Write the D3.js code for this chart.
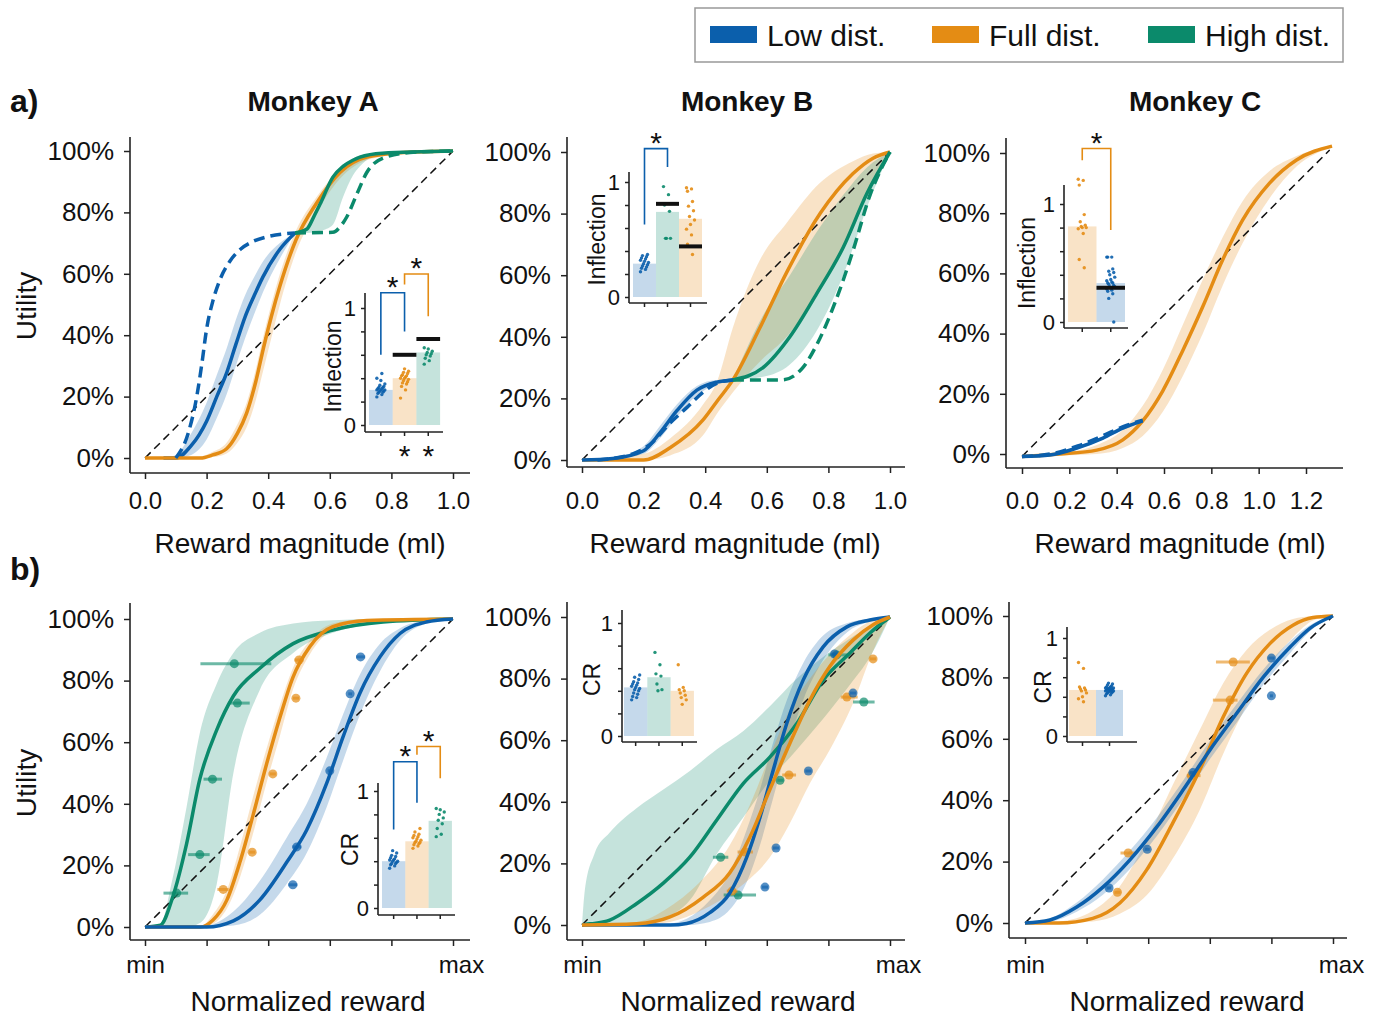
<!DOCTYPE html>
<html>
<head>
<meta charset="utf-8">
<script src="https://cdn.jsdelivr.net/npm/d3@7"></script>
<style>
  body { margin: 0; background: #fff; }
  svg text { font-family: "Liberation Sans", Arial, sans-serif; fill: #111; }
</style>
</head>
<body>
<div id="chart"></div>
<script>
/** Colours **/
const COL = { low: '#0b5fac', full: '#e48c14', high: '#0b8a6b' };
const LEGEND = [['low', 'Low dist.'], ['full', 'Full dist.'], ['high', 'High dist.']];

/** a) utility curves: [x, utility, band low, band high] **/
const monkeyA_low = [[0.06,0,0,0],[0.10,0,0,0.01],[0.15,0.04,0.01,0.08],[0.20,0.12,0.06,0.18],[0.233,0.20,0.13,0.27],[0.266,0.28,0.21,0.36],[0.295,0.37,0.30,0.45],[0.325,0.46,0.39,0.53],[0.355,0.53,0.47,0.59],[0.383,0.59,0.54,0.64],[0.438,0.68,0.65,0.70],[0.487,0.733,0.733,0.733]];
const monkeyA_lowDash = [[0.10,0],[0.14,0.08],[0.168,0.2],[0.185,0.31],[0.20,0.42],[0.22,0.51],[0.243,0.58],[0.275,0.64],[0.31,0.68],[0.35,0.705],[0.395,0.72],[0.487,0.733]];
const monkeyA_full = [[0,0,0,0],[0.18,0,0,0.005],[0.22,0.01,0.003,0.02],[0.265,0.03,0.015,0.05],[0.30,0.08,0.05,0.11],[0.33,0.146,0.10,0.18],[0.36,0.25,0.19,0.29],[0.385,0.36,0.29,0.40],[0.41,0.46,0.39,0.50],[0.438,0.56,0.50,0.60],[0.49,0.71,0.67,0.74],[0.557,0.83,0.80,0.85],[0.633,0.93,0.91,0.94],[0.72,0.98,0.97,0.985],[0.84,0.995,0.99,1],[1,1,1,1]];
const monkeyA_high = [[0.487,0.733,0.733,0.733],[0.525,0.745,0.733,0.755],[0.55,0.79,0.735,0.80],[0.57,0.83,0.74,0.84],[0.61,0.915,0.76,0.92],[0.643,0.95,0.85,0.955],[0.675,0.97,0.92,0.975],[0.698,0.98,0.95,0.985],[0.77,0.993,0.99,0.995],[1,1,1,1]];
const monkeyA_highDash = [[0.487,0.733],[0.61,0.735],[0.635,0.755],[0.655,0.785],[0.688,0.86],[0.72,0.93],[0.773,0.977],[0.86,0.995],[1,1]];

const monkeyB_low = [[0,0,0,0],[0.10,0.005,0.003,0.008],[0.2,0.03,0.02,0.045],[0.253,0.088,0.07,0.11],[0.308,0.16,0.14,0.18],[0.373,0.227,0.21,0.24],[0.438,0.253,0.245,0.26],[0.49,0.26,0.26,0.26]];
const monkeyB_lowDash = [[0.05,0],[0.165,0.02],[0.22,0.05],[0.286,0.12],[0.34,0.17],[0.393,0.22],[0.44,0.25],[0.49,0.26]];
const monkeyB_full = [[0,0,0,0],[0.2,0,0,0.02],[0.286,0.04,0.015,0.07],[0.393,0.13,0.08,0.18],[0.438,0.19,0.15,0.253],[0.49,0.26,0.22,0.43],[0.578,0.43,0.32,0.65],[0.665,0.61,0.40,0.77],[0.773,0.80,0.55,0.90],[0.88,0.93,0.75,0.97],[0.945,0.98,0.90,0.995],[1,1,1,1]];
const monkeyB_high = [[0.49,0.26,0.26,0.26],[0.588,0.30,0.27,0.47],[0.675,0.40,0.31,0.60],[0.762,0.54,0.42,0.74],[0.848,0.69,0.60,0.86],[0.925,0.865,0.82,0.95],[1,1,1,1]];
const monkeyB_highDash = [[0.49,0.26],[0.65,0.26],[0.717,0.30],[0.76,0.37],[0.825,0.52],[0.88,0.68],[0.935,0.86],[1,1]];

const monkeyC_low = [[0,-0.008,-0.008,-0.008],[0.118,-0.003,-0.006,0],[0.232,0.02,0.015,0.025],[0.342,0.053,0.048,0.058],[0.426,0.086,0.08,0.09],[0.51,0.11,0.107,0.113]];
const monkeyC_lowDash = [[0,-0.008],[0.12,0],[0.24,0.028],[0.34,0.06],[0.43,0.092],[0.51,0.112]];
const monkeyC_full = [[0,-0.008,-0.008,-0.008],[0.16,0,-0.005,0.003],[0.316,0.013,0,0.03],[0.426,0.047,0.02,0.08],[0.51,0.11,0.06,0.16],[0.595,0.21,0.14,0.28],[0.68,0.345,0.26,0.43],[0.764,0.49,0.40,0.58],[0.848,0.645,0.56,0.72],[0.932,0.777,0.70,0.84],[1.046,0.90,0.85,0.94],[1.16,0.977,0.955,0.99],[1.31,1.023,1.02,1.025]];
const monkeyC_diag = [[0,-0.008],[1.3,1.01]];
const unitDiag = [[0,0],[1,1]];

/** a) insets: inflection points **/
const monkeyA_infl_low  = [0.24,0.26,0.27,0.28,0.28,0.29,0.29,0.30,0.30,0.30,0.31,0.31,0.32,0.32,0.33,0.34,0.35,0.38,0.40,0.44];
const monkeyA_infl_full = [0.23,0.30,0.33,0.35,0.36,0.37,0.38,0.39,0.40,0.40,0.41,0.42,0.42,0.43,0.44,0.45,0.46,0.48];
const monkeyA_infl_high = [0.52,0.55,0.57,0.59,0.60,0.61,0.62,0.63,0.65,0.66];
const monkeyA_infl_mean = [0.30, 0.40, 0.62];
const monkeyA_infl_ref  = [null, 0.60, 0.735];

const monkeyB_infl_low  = [0.22,0.24,0.25,0.26,0.27,0.28,0.29,0.30,0.31,0.32,0.33,0.34,0.35,0.36,0.37];
const monkeyB_infl_high = [0.96,0.89,0.80,0.745,0.51,0.51,0.51];
const monkeyB_infl_full = [0.95,0.94,0.92,0.83,0.79,0.75,0.70,0.67,0.63,0.59,0.54,0.46,0.37];
const monkeyB_infl_mean = [0.29, 0.74, 0.68];
const monkeyB_infl_ref  = [null, 0.81, 0.44];

const monkeyC_infl_full = [1.21,1.20,1.16,0.91,0.85,0.82,0.81,0.80,0.80,0.79,0.75,0.53,0.46];
const monkeyC_infl_low  = [0.55,0.55,0.55,0.45,0.43,0.42,0.40,0.38,0.36,0.35,0.34,0.33,0.33,0.32,0.31,0.30,0.30,0.29,0.28,0.27,0.26,0.24,0.20,0];
const monkeyC_infl_mean = [0.81, 0.33];
const monkeyC_infl_ref  = [null, 0.29];

/** b) normalized curves: [x, utility, band low, band high] **/
const normA_low = [[0,0,0,0],[0.2,0,0,0.005],[0.287,0.02,0.005,0.05],[0.373,0.088,0.04,0.15],[0.46,0.21,0.14,0.29],[0.525,0.315,0.24,0.40],[0.59,0.467,0.39,0.55],[0.643,0.617,0.54,0.69],[0.698,0.76,0.69,0.82],[0.763,0.877,0.83,0.92],[0.828,0.953,0.93,0.97],[0.913,0.99,0.985,0.995],[1,1,1,1]];
const normA_full = [[0,0,0,0],[0.18,0,0,0.003],[0.22,0.022,0.01,0.04],[0.266,0.088,0.06,0.12],[0.308,0.21,0.16,0.26],[0.35,0.36,0.30,0.42],[0.395,0.53,0.47,0.58],[0.438,0.68,0.62,0.72],[0.48,0.81,0.77,0.84],[0.535,0.91,0.885,0.93],[0.61,0.975,0.965,0.985],[0.72,0.995,0.99,1],[1,1,1,1]];
const normA_high = [[0,0,0,0],[0.05,0.006,0,0.01],[0.09,0.097,0,0.16],[0.135,0.27,0,0.39],[0.178,0.48,0.013,0.63],[0.233,0.64,0.14,0.79],[0.287,0.75,0.50,0.89],[0.373,0.84,0.77,0.955],[0.481,0.92,0.89,0.985],[0.61,0.964,0.955,0.996],[0.773,0.99,0.988,1],[1,1,1,1]];
// data points: [x, utility, x low, x high]
const normA_pts_low  = [[0.70,0.877,0.685,0.715],[0.666,0.757,0.66,0.672],[0.60,0.507,0.593,0.607],[0.493,0.26,0.478,0.508],[0.48,0.137,0.465,0.495]];
const normA_pts_full = [[0.50,0.867,0.485,0.515],[0.49,0.743,0.48,0.50],[0.415,0.497,0.405,0.425],[0.348,0.243,0.338,0.358],[0.254,0.122,0.235,0.272]];
const normA_pts_high = [[0.29,0.855,0.18,0.41],[0.30,0.727,0.27,0.34],[0.219,0.48,0.19,0.25],[0.178,0.235,0.14,0.21],[0.103,0.11,0.06,0.14]];

const normB_low = [[0,0,0,0],[0.286,0,0,0.005],[0.34,0.005,0,0.02],[0.415,0.04,0.01,0.08],[0.48,0.104,0.05,0.17],[0.535,0.22,0.14,0.31],[0.578,0.35,0.26,0.44],[0.62,0.50,0.41,0.59],[0.665,0.655,0.57,0.73],[0.718,0.795,0.73,0.85],[0.783,0.903,0.86,0.94],[0.86,0.968,0.95,0.98],[0.935,0.99,0.985,0.995],[1,1,1,1]];
const normB_full = [[0,0,0,0],[0.178,0.004,0,0.01],[0.286,0.026,0.01,0.06],[0.393,0.09,0.05,0.15],[0.48,0.17,0.10,0.26],[0.545,0.285,0.15,0.39],[0.61,0.44,0.22,0.55],[0.675,0.59,0.33,0.70],[0.74,0.73,0.46,0.80],[0.805,0.84,0.57,0.88],[0.88,0.925,0.72,0.95],[0.945,0.975,0.89,0.99],[1,1,1,1]];
const normB_high = [[0,0,0,0],[0.01,0.002,0,0.12],[0.04,0.005,0,0.23],[0.09,0.016,0,0.30],[0.178,0.07,0,0.38],[0.264,0.136,0.02,0.44],[0.35,0.22,0.08,0.50],[0.437,0.34,0.23,0.57],[0.524,0.46,0.35,0.63],[0.61,0.545,0.47,0.71],[0.698,0.655,0.57,0.80],[0.783,0.795,0.67,0.87],[0.87,0.883,0.78,0.93],[0.935,0.948,0.87,0.97],[1,1,1,1]];
const normB_pts_low  = [[0.82,0.88,0.81,0.83],[0.88,0.753,0.87,0.89],[0.735,0.50,0.725,0.745],[0.63,0.25,0.62,0.64],[0.594,0.123,0.584,0.604]];
const normB_pts_full = [[0.945,0.864,0.935,0.955],[0.86,0.74,0.84,0.895],[0.672,0.487,0.65,0.695],[0.53,0.237,0.505,0.555],[0.487,0.11,0.47,0.505]];
const normB_pts_high = [[0.827,0.877,0.80,0.86],[0.915,0.724,0.88,0.95],[0.643,0.47,0.635,0.655],[0.45,0.22,0.425,0.475],[0.507,0.097,0.46,0.565]];

const normC_low = [[0,0,0,0],[0.081,0.01,0.005,0.015],[0.168,0.052,0.037,0.067],[0.253,0.117,0.092,0.142],[0.34,0.205,0.175,0.235],[0.428,0.313,0.283,0.343],[0.513,0.433,0.403,0.463],[0.6,0.563,0.533,0.593],[0.688,0.684,0.654,0.714],[0.773,0.80,0.775,0.825],[0.86,0.898,0.878,0.918],[0.925,0.96,0.95,0.97],[1,1,1,1]];
const normC_full = [[0,0,0,0],[0.11,0,0,0.005],[0.22,0.015,0.005,0.04],[0.308,0.065,0.03,0.12],[0.395,0.173,0.09,0.27],[0.48,0.326,0.21,0.45],[0.568,0.50,0.37,0.63],[0.643,0.67,0.55,0.78],[0.72,0.814,0.71,0.89],[0.795,0.91,0.84,0.955],[0.87,0.97,0.93,0.99],[0.935,0.995,0.985,0.999],[1,1,1,1]];
const normC_pts_low  = [[0.80,0.863,0.79,0.81],[0.80,0.74,0.795,0.805],[0.545,0.49,0.535,0.555],[0.397,0.24,0.39,0.405],[0.273,0.114,0.265,0.28]];
const normC_pts_full = [[0.676,0.85,0.62,0.73],[0.666,0.726,0.61,0.69],[0.54,0.48,0.525,0.57],[0.335,0.228,0.31,0.36],[0.30,0.10,0.29,0.31]];

/** b) insets: CR **/
const normA_cr_low  = [0.34,0.36,0.37,0.38,0.38,0.39,0.40,0.40,0.41,0.41,0.42,0.43,0.44,0.45,0.47,0.49];
const normA_cr_full = [0.51,0.53,0.54,0.55,0.56,0.56,0.57,0.58,0.59,0.60,0.61,0.62,0.63,0.65,0.68];
const normA_cr_high = [0.61,0.63,0.68,0.72,0.75,0.77,0.80,0.82,0.84,0.85];
const normA_cr_mean = [0.40, 0.57, 0.745];

const normB_cr_low  = [0.32,0.34,0.35,0.37,0.38,0.40,0.41,0.42,0.43,0.44,0.45,0.46,0.47,0.48,0.50,0.52,0.54];
const normB_cr_high = [0.74,0.63,0.55,0.53,0.46,0.41,0.40];
const normB_cr_full = [0.63,0.43,0.41,0.40,0.38,0.36,0.34,0.32,0.28];
const normB_cr_mean = [0.43, 0.52, 0.40];

const normC_cr_full = [0.75,0.69,0.50,0.49,0.48,0.47,0.46,0.44,0.40,0.38,0.35];
const normC_cr_low  = [0.41,0.42,0.43,0.44,0.44,0.45,0.45,0.46,0.46,0.46,0.47,0.47,0.47,0.48,0.48,0.48,0.49,0.49,0.49,0.50,0.50,0.51,0.52,0.53,0.54];
const normC_cr_mean = [0.47, 0.47];

const yTickVals = [0, 0.2, 0.4, 0.6, 0.8, 1];

/** Row text positions **/
const ROW = {
  a: { tickTop: 492, titleY: 553, ylabelY: 306 },
  b: { tickTop: 956, titleY: 1011, ylabelY: 783 }
};

/** Panel layout **/
const panels = [
  { title: 'Monkey A', titleX: 313, letter: 'a)', ylabel: true, row: 'a',
    xDomain: [0, 1], xRange: [145, 453], yRange: [458, 151],
    frame: { left: 130, top: 137, bottom: 473, right: 470 },
    xTicks: [0, 0.2, 0.4, 0.6, 0.8, 1], xtitle: 'Reward magnitude (ml)', xtitleX: 300,
    diag: unitDiag,
    curves: [
      { d: monkeyA_low, k: 'low' }, { d: monkeyA_full, k: 'full' }, { d: monkeyA_high, k: 'high' },
      { d: monkeyA_lowDash, k: 'low', dash: true }, { d: monkeyA_highDash, k: 'high', dash: true }
    ],
    inset: { left: 365, top: 293, bottom: 432, right: 443, y0: 425, y1: 308, barLeft: 369, barW: 23.7,
      label: 'Inflection', labelDx: -32, keys: ['low', 'full', 'high'],
      dots: [monkeyA_infl_low, monkeyA_infl_full, monkeyA_infl_high],
      mean: monkeyA_infl_mean, ref: monkeyA_infl_ref,
      brackets: [{ a: 0, b: 1, top: 1.13, la: 0.60, lb: 0.80, k: 'low' }, { a: 1, b: 2, top: 1.29, la: 1.20, lb: 0.93, k: 'full' }],
      stars: [1, 2], starY: 466 } },
  { title: 'Monkey B', titleX: 747, row: 'a',
    xDomain: [0, 1], xRange: [582, 890], yRange: [460, 152],
    frame: { left: 567, top: 137, bottom: 467, right: 905 },
    xTicks: [0, 0.2, 0.4, 0.6, 0.8, 1], xtitle: 'Reward magnitude (ml)', xtitleX: 735,
    diag: unitDiag,
    curves: [
      { d: monkeyB_full, k: 'full' }, { d: monkeyB_high, k: 'high' }, { d: monkeyB_low, k: 'low' },
      { d: monkeyB_lowDash, k: 'low', dash: true }, { d: monkeyB_highDash, k: 'high', dash: true }
    ],
    inset: { left: 629, top: 172, bottom: 303, right: 707, y0: 297, y1: 182, barLeft: 633, barW: 23,
      label: 'Inflection', labelDx: -32, keys: ['low', 'high', 'full'],
      dots: [monkeyB_infl_low, monkeyB_infl_high, monkeyB_infl_full],
      mean: monkeyB_infl_mean, ref: monkeyB_infl_ref,
      brackets: [{ a: 0, b: 1, top: 1.29, la: 0.63, lb: 1.13, k: 'low' }], stars: [] } },
  { title: 'Monkey C', titleX: 1195, row: 'a',
    xDomain: [0, 1.2], xRange: [1022, 1306], yRange: [454, 153],
    frame: { left: 1006, top: 138, bottom: 468, right: 1343 },
    xTicks: [0, 0.2, 0.4, 0.6, 0.8, 1, 1.2], xtitle: 'Reward magnitude (ml)', xtitleX: 1180,
    diag: monkeyC_diag,
    curves: [
      { d: monkeyC_full, k: 'full' }, { d: monkeyC_low, k: 'low' },
      { d: monkeyC_lowDash, k: 'low', dash: true }
    ],
    inset: { left: 1064, top: 185, bottom: 328, right: 1128, y0: 322, y1: 204, barLeft: 1068, barW: 28.5,
      label: 'Inflection', labelDx: -37, keys: ['full', 'low'],
      dots: [monkeyC_infl_full, monkeyC_infl_low],
      mean: monkeyC_infl_mean, ref: monkeyC_infl_ref,
      brackets: [{ a: 0, b: 1, top: 1.47, la: 1.37, lb: 0.78, k: 'full' }], stars: [] } },
  { letter: 'b)', ylabel: true, row: 'b',
    xDomain: [0, 1], xRange: [145, 453], yRange: [927, 619],
    frame: { left: 130, top: 603, bottom: 940, right: 470 },
    xTicks: [0, 0.2, 0.4, 0.6, 0.8, 1], xtitle: 'Normalized reward', xtitleX: 308,
    diag: unitDiag,
    curves: [{ d: normA_high, k: 'high' }, { d: normA_full, k: 'full' }, { d: normA_low, k: 'low' }],
    points: [{ d: normA_pts_high, k: 'high' }, { d: normA_pts_full, k: 'full' }, { d: normA_pts_low, k: 'low' }],
    inset: { left: 378, top: 783, bottom: 915, right: 455, y0: 908, y1: 791, barLeft: 382, barW: 23.3,
      label: 'CR', labelDx: -28, keys: ['low', 'full', 'high'],
      dots: [normA_cr_low, normA_cr_full, normA_cr_high], mean: normA_cr_mean, ref: [],
      brackets: [{ a: 0, b: 1, top: 1.25, la: 0.67, lb: 0.90, k: 'low' }, { a: 1, b: 2, top: 1.38, la: 1.31, lb: 1.11, k: 'full' }],
      stars: [] } },
  { row: 'b',
    xDomain: [0, 1], xRange: [582, 890], yRange: [925, 617],
    frame: { left: 567, top: 602, bottom: 940, right: 905 },
    xTicks: [0, 0.2, 0.4, 0.6, 0.8, 1], xtitle: 'Normalized reward', xtitleX: 738,
    diag: unitDiag,
    curves: [{ d: normB_high, k: 'high' }, { d: normB_low, k: 'low' }, { d: normB_full, k: 'full' }],
    points: [{ d: normB_pts_high, k: 'high' }, { d: normB_pts_full, k: 'full' }, { d: normB_pts_low, k: 'low' }],
    inset: { left: 622, top: 610, bottom: 742, right: 697, y0: 736, y1: 623, barLeft: 624, barW: 23.3,
      label: 'CR', labelDx: -30, keys: ['low', 'high', 'full'],
      dots: [normB_cr_low, normB_cr_high, normB_cr_full], mean: normB_cr_mean, ref: [],
      brackets: [], stars: [] } },
  { row: 'b',
    xDomain: [0, 1], xRange: [1025, 1333], yRange: [923, 616],
    frame: { left: 1009, top: 602, bottom: 938, right: 1347 },
    xTicks: [0, 0.2, 0.4, 0.6, 0.8, 1], xtitle: 'Normalized reward', xtitleX: 1187,
    diag: unitDiag,
    curves: [{ d: normC_full, k: 'full' }, { d: normC_low, k: 'low' }],
    points: [{ d: normC_pts_full, k: 'full' }, { d: normC_pts_low, k: 'low' }],
    inset: { left: 1067, top: 627, bottom: 742, right: 1137, y0: 736, y1: 638, barLeft: 1069, barW: 27,
      label: 'CR', labelDx: -24, keys: ['full', 'low'],
      dots: [normC_cr_full, normC_cr_low], mean: normC_cr_mean, ref: [],
      brackets: [], stars: [] } }
];

/** SVG **/
const svg = d3.select('#chart').append('svg')
  .attr('width', 1384).attr('height', 1017);

function styleAxis(sel, size) {
  sel.select('.domain').remove();
  sel.selectAll('.tick line').attr('stroke', '#222').attr('stroke-width', 1.5);
  sel.selectAll('.tick text').attr('font-size', size).attr('fill', '#111')
    .attr('font-family', '"Liberation Sans", Arial, sans-serif');
}

/** Main panel **/
function drawPanel(p) {
  const g = svg.append('g');
  const x = d3.scaleLinear().domain(p.xDomain).range(p.xRange);
  const y = d3.scaleLinear().domain([0, 1]).range(p.yRange);
  const f = p.frame;
  const row = ROW[p.row];

  // axes
  g.append('g').attr('transform', `translate(${f.left},0)`)
    .call(d3.axisLeft(y).tickValues(yTickVals).tickFormat(d3.format('.0%')).tickSize(6).tickPadding(10))
    .call(styleAxis, 26);

  const xFmt = p.row === 'a'
    ? d3.format('.1f')
    : (d, i) => (i === 0 ? 'min' : (i === p.xTicks.length - 1 ? 'max' : ''));
  const xa = g.append('g').attr('transform', `translate(0,${f.bottom})`)
    .call(d3.axisBottom(x).tickValues(p.xTicks).tickFormat(xFmt).tickSize(6)
      .tickPadding(row.tickTop - f.bottom - 6))
    .call(styleAxis, 24);
  if (p.row === 'b') xa.selectAll('.tick text').filter((d, i) => i === p.xTicks.length - 1).attr('dx', 8);

  g.append('line').attr('x1', f.left).attr('x2', f.left).attr('y1', f.top).attr('y2', f.bottom)
    .attr('stroke', '#222').attr('stroke-width', 1.6);
  g.append('line').attr('x1', f.left).attr('x2', f.right).attr('y1', f.bottom).attr('y2', f.bottom)
    .attr('stroke', '#222').attr('stroke-width', 1.6);

  // bands
  const area = d3.area().x(d => x(d[0])).y0(d => y(d[2])).y1(d => y(d[3])).curve(d3.curveMonotoneX);
  p.curves.filter(c => !c.dash).forEach(c => {
    g.append('path').attr('d', area(c.d)).attr('fill', COL[c.k]).attr('fill-opacity', 0.24);
  });

  // identity line
  const line = d3.line().x(d => x(d[0])).y(d => y(d[1])).curve(d3.curveMonotoneX);
  g.append('path').attr('d', d3.line().x(d => x(d[0])).y(d => y(d[1]))(p.diag))
    .attr('fill', 'none').attr('stroke', '#111').attr('stroke-width', 1.5).attr('stroke-dasharray', '8,5');

  // data points with horizontal error bars
  (p.points || []).forEach(s => {
    const pg = g.append('g');
    pg.selectAll('line').data(s.d).enter().append('line')
      .attr('x1', d => x(d[2])).attr('x2', d => x(d[3]))
      .attr('y1', d => y(d[1])).attr('y2', d => y(d[1]))
      .attr('stroke', COL[s.k]).attr('stroke-opacity', 0.6).attr('stroke-width', 3);
    pg.selectAll('circle').data(s.d).enter().append('circle')
      .attr('cx', d => x(d[0])).attr('cy', d => y(d[1])).attr('r', 4.5)
      .attr('fill', COL[s.k]).attr('fill-opacity', 0.7);
  });

  // fitted curves
  p.curves.forEach(c => {
    g.append('path').attr('d', line(c.d)).attr('fill', 'none')
      .attr('stroke', COL[c.k]).attr('stroke-width', 3.5)
      .attr('stroke-dasharray', c.dash ? '11,6' : null);
  });

  // texts
  if (p.title) g.append('text').attr('x', p.titleX).attr('y', 111).attr('text-anchor', 'middle')
    .attr('font-size', 28).attr('font-weight', 'bold').text(p.title);
  if (p.letter) g.append('text').attr('x', 10).attr('y', p.row === 'a' ? 112 : 580)
    .attr('font-size', 32).attr('font-weight', 'bold').text(p.letter);
  if (p.ylabel) g.append('text')
    .attr('transform', `translate(36,${row.ylabelY}) rotate(-90)`)
    .attr('text-anchor', 'middle').attr('font-size', 28).text('Utility');
  g.append('text').attr('x', p.xtitleX).attr('y', row.titleY)
    .attr('text-anchor', 'middle').attr('font-size', 28).text(p.xtitle);

  drawInset(p.inset);
}

/** Inset bar chart **/
function drawInset(s) {
  const g = svg.append('g');
  const y = d3.scaleLinear().domain([0, 1]).range([s.y0, s.y1]);
  const x = d3.scaleBand().domain(s.keys).range([s.barLeft, s.barLeft + s.barW * s.keys.length]);
  const cx = i => x(s.keys[i]) + x.bandwidth() / 2;

  g.selectAll('rect').data(s.keys).enter().append('rect')
    .attr('x', k => x(k)).attr('width', x.bandwidth())
    .attr('y', (k, i) => y(s.mean[i])).attr('height', (k, i) => y(0) - y(s.mean[i]))
    .attr('fill', k => COL[k]).attr('fill-opacity', 0.24);

  s.keys.forEach((k, i) => {
    g.append('g').selectAll('circle').data(s.dots[i]).enter().append('circle')
      .attr('cx', (d, j) => cx(i) + ((j * 5) % 9 - 4) * 1.0)
      .attr('cy', d => y(d)).attr('r', 1.7)
      .attr('fill', COL[k]).attr('fill-opacity', 0.9);
    if (s.ref[i] != null) {
      g.append('line').attr('x1', x(k)).attr('x2', x(k) + x.bandwidth())
        .attr('y1', y(s.ref[i])).attr('y2', y(s.ref[i]))
        .attr('stroke', '#111').attr('stroke-width', 4);
    }
  });

  g.append('g').attr('transform', `translate(${s.left},0)`)
    .call(d3.axisLeft(y).tickValues(yTickVals).tickSize(4).tickPadding(5)
      .tickFormat(d => (d === 0 ? '0' : d === 1 ? '1' : '')))
    .call(styleAxis, 22);
  g.append('g').attr('transform', `translate(0,${s.bottom})`)
    .call(d3.axisBottom(x).tickSize(4).tickFormat(''))
    .call(styleAxis, 10);
  g.append('line').attr('x1', s.left).attr('x2', s.left).attr('y1', s.top).attr('y2', s.bottom)
    .attr('stroke', '#222').attr('stroke-width', 1.6);
  g.append('line').attr('x1', s.left).attr('x2', s.right).attr('y1', s.bottom).attr('y2', s.bottom)
    .attr('stroke', '#222').attr('stroke-width', 1.6);

  g.append('text')
    .attr('transform', `translate(${s.left + s.labelDx + 8},${(s.y0 + s.y1) / 2}) rotate(-90)`)
    .attr('text-anchor', 'middle').attr('font-size', 23).text(s.label);

  s.brackets.forEach(b => {
    const xa = cx(b.a), xb = cx(b.b);
    g.append('path')
      .attr('d', `M${xa},${y(b.la)}V${y(b.top)}H${xb}V${y(b.lb)}`)
      .attr('fill', 'none').attr('stroke', COL[b.k]).attr('stroke-width', 1.6);
    g.append('text').attr('x', (xa + xb) / 2).attr('y', y(b.top) + 4)
      .attr('text-anchor', 'middle').attr('font-size', 30).attr('fill', '#333').text('*');
  });
  s.stars.forEach(i => {
    g.append('text').attr('x', cx(i)).attr('y', s.starY)
      .attr('text-anchor', 'middle').attr('font-size', 30).attr('fill', '#333').text('*');
  });
}

panels.forEach(drawPanel);

/** Legend **/
const lg = svg.append('g');
lg.append('rect').attr('x', 695).attr('y', 8).attr('width', 648).attr('height', 54)
  .attr('fill', '#fff').attr('stroke', '#999').attr('stroke-width', 1.5);
const legendX = [710, 932, 1148];
LEGEND.forEach(([k, label], i) => {
  lg.append('rect').attr('x', legendX[i]).attr('y', 26).attr('width', 47).attr('height', 17).attr('fill', COL[k]);
  lg.append('text').attr('x', legendX[i] + 57).attr('y', 46).attr('font-size', 30).text(label);
});
</script>
</body>
</html>
